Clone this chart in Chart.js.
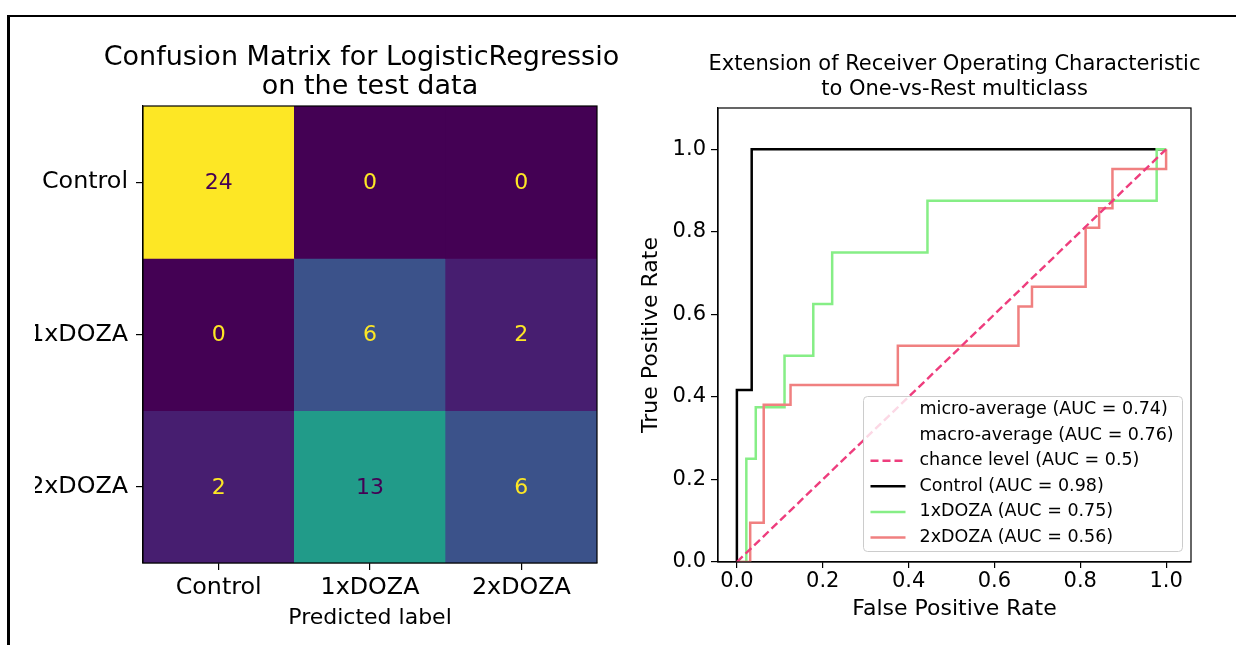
<!DOCTYPE html>
<html>
<head>
<meta charset="utf-8">
<script src="https://cdn.jsdelivr.net/npm/chart.js@4.4.1/dist/chart.umd.min.js"></script>
<style>
  html, body { margin: 0; padding: 0; background: #fff; overflow: hidden; }
  #page { position: relative; width: 1236px; height: 645px; }
  #cm { position: absolute; left: 35px; top: 0; }
  #roc { position: absolute; left: 620px; top: 0; }
  .frame { position: absolute; background: #000; }
</style>
</head>
<body>
<div id="page">
  <canvas id="cm" width="583" height="645"></canvas>
  <canvas id="roc" width="610" height="645"></canvas>
  <div class="frame" style="left:7px;top:15px;width:1229px;height:2px;"></div>
  <div class="frame" style="left:7px;top:15px;width:3px;height:630px;"></div>
</div>
<script>
Chart.defaults.font.family = "'DejaVu Sans', sans-serif";
Chart.defaults.color = '#000';

// confusion matrix, rows = true label, columns = predicted label
const classNames = ['Control', '1xDOZA', '2xDOZA'];
const trueControl = [24, 0, 0];
const true1xDoza = [0, 6, 2];
const true2xDoza = [2, 13, 6];
const cmRows = [trueControl, true1xDoza, true2xDoza];

// ROC curves (fpr, tpr)
const controlFpr = [0, 0, 0.0345, 0.0345, 1];
const controlTpr = [0, 0.417, 0.417, 1, 1];
const doza1Fpr = [0, 0.022, 0.022, 0.044, 0.044, 0.111, 0.111, 0.178, 0.178, 0.222, 0.222, 0.444, 0.444, 0.978, 0.978, 1];
const doza1Tpr = [0, 0, 0.25, 0.25, 0.375, 0.375, 0.5, 0.5, 0.625, 0.625, 0.75, 0.75, 0.875, 0.875, 1, 1];
const doza2Fpr = [0, 0.031, 0.031, 0.0625, 0.0625, 0.125, 0.125, 0.375, 0.375, 0.656, 0.656, 0.6875, 0.6875, 0.8125, 0.8125, 0.844, 0.844, 0.875, 0.875, 1, 1];
const doza2Tpr = [0, 0, 0.095, 0.095, 0.381, 0.381, 0.429, 0.429, 0.524, 0.524, 0.619, 0.619, 0.667, 0.667, 0.81, 0.81, 0.857, 0.857, 0.952, 0.952, 1];
const chanceFpr = [0, 1];
const chanceTpr = [0, 1];
const rateTicks = [0, 0.2, 0.4, 0.6, 0.8, 1.0];
const rocLabels = [
  'micro-average (AUC = 0.74)',
  'macro-average (AUC = 0.76)',
  'chance level (AUC = 0.5)',
  'Control (AUC = 0.98)',
  '1xDOZA (AUC = 0.75)',
  '2xDOZA (AUC = 0.56)'
];

const viridisStops = ['#440154', '#482475', '#414487', '#355f8d', '#2a788e', '#21918c',
  '#22a884', '#44bf70', '#7ad151', '#bddf26', '#fde725'];
function viridis(t) {
  t = Math.min(1, Math.max(0, t)) * (viridisStops.length - 1);
  const i = Math.min(Math.floor(t), viridisStops.length - 2);
  const f = t - i;
  const a = viridisStops[i], b = viridisStops[i + 1];
  let out = '#';
  for (let k = 1; k < 7; k += 2) {
    const ca = parseInt(a.substr(k, 2), 16), cb = parseInt(b.substr(k, 2), 16);
    out += Math.round(ca + (cb - ca) * f).toString(16).padStart(2, '0');
  }
  return out;
}

const pts = (xs, ys) => xs.map((x, i) => ({ x: x, y: ys[i] }));

// title centred over the plot area (like matplotlib's ax.set_title)
const plotTitle = {
  id: 'plotTitle',
  afterDraw(chart, args, opts) {
    const { ctx, chartArea } = chart;
    ctx.save();
    ctx.font = opts.size + "px 'DejaVu Sans'";
    ctx.fillStyle = '#000';
    ctx.textAlign = 'center';
    ctx.textBaseline = 'middle';
    const cx = (chartArea.left + chartArea.right) / 2;
    opts.lines.forEach((t, i) => ctx.fillText(t, cx, opts.top + i * opts.gap));
    ctx.restore();
  }
};

const boxFrame = {
  id: 'boxFrame',
  afterDraw(chart) {
    const { ctx, chartArea: a } = chart;
    ctx.save();
    ctx.strokeStyle = '#000';
    ctx.lineWidth = 1.2;
    ctx.strokeRect(a.left, a.top, a.right - a.left, a.bottom - a.top);
    ctx.restore();
  }
};

const vmax = Math.max(...cmRows.flat());
const vmin = Math.min(...cmRows.flat());
const cellText = {
  id: 'cellText',
  afterDatasetsDraw(chart) {
    const { ctx, scales } = chart;
    ctx.save();
    ctx.font = "22px 'DejaVu Sans'";
    ctx.textAlign = 'center';
    ctx.textBaseline = 'middle';
    cmRows.forEach((row, r) => row.forEach((v, c) => {
      ctx.fillStyle = v > (vmax + vmin) / 2 ? viridis(0) : viridis(1);
      ctx.fillText(String(v), scales.x.getPixelForValue(c), scales.y.getPixelForValue(r + 0.5) + 1);
    }));
    ctx.restore();
  }
};

const rocLegend = {
  id: 'rocLegend',
  afterDatasetsDraw(chart) {
    const { ctx, chartArea: a } = chart;
    const w = 319, h = 155;
    const x0 = Math.round(a.right - 9 - w) + 0.5, y0 = Math.round(a.bottom - 11 - h) + 0.5;
    ctx.save();
    ctx.beginPath();
    ctx.roundRect(x0, y0, w, h, 4);
    ctx.fillStyle = 'rgba(255,255,255,0.8)';
    ctx.fill();
    ctx.strokeStyle = '#cccccc';
    ctx.lineWidth = 1;
    ctx.stroke();
    ctx.font = "17.5px 'DejaVu Sans'";
    ctx.textBaseline = 'middle';
    ctx.textAlign = 'left';
    chart.data.datasets.forEach((ds, i) => {
      const yy = y0 + 13 + i * 25.6;
      if (ds.borderColor !== 'transparent') {
        ctx.beginPath();
        ctx.strokeStyle = ds.borderColor;
        ctx.lineWidth = ds.borderWidth || 2.5;
        ctx.setLineDash(ds.borderDash || []);
        ctx.moveTo(x0 + 7, yy);
        ctx.lineTo(x0 + 42, yy);
        ctx.stroke();
        ctx.setLineDash([]);
      }
      ctx.fillStyle = '#000';
      ctx.fillText(ds.label, x0 + 56, yy);
    });
    ctx.restore();
  }
};

new Chart(document.getElementById('cm'), {
  type: 'bar',
  data: {
    labels: classNames,
    datasets: classNames.map((name, r) => ({
      label: name,
      data: classNames.map(() => [r, r + 1]),
      backgroundColor: cmRows[r].map(v => viridis((v - vmin) / (vmax - vmin))),
      borderWidth: 0,
      barPercentage: 1,
      categoryPercentage: 1,
      grouped: false
    }))
  },
  options: {
    responsive: false,
    animation: false,
    layout: { padding: { left: 0, right: 21, top: 106, bottom: 14 } },
    plugins: {
      legend: { display: false },
      tooltip: { enabled: false },
      plotTitle: { lines: ['Confusion Matrix for LogisticRegression', 'on the test data'], size: 27, top: 58, gap: 29 }
    },
    scales: {
      x: {
        offset: true,
        afterFit: s => { s.height = 68; },
        grid: { offset: false, drawOnChartArea: false, tickLength: 7, color: '#000', lineWidth: 1.2 },
        border: { color: '#000', width: 1.2 },
        ticks: { font: { size: 23.8 }, padding: 4, maxRotation: 0, color: '#000' },
        title: { display: true, text: 'Predicted label', font: { size: 22 }, padding: { top: 0, bottom: 0 }, color: '#000' }
      },
      y: {
        type: 'linear',
        min: 0,
        max: 3,
        reverse: true,
        afterFit: s => { s.width = 108; },
        afterBuildTicks: s => { s.ticks = classNames.map((_, i) => ({ value: i + 0.5 })); },
        grid: { drawOnChartArea: false, tickLength: 7, color: '#000', lineWidth: 1.2 },
        border: { color: '#000', width: 1.2 },
        ticks: { font: { size: 23.8 }, padding: 8, color: '#000', callback: (v, i) => classNames[i] }
      }
    }
  },
  plugins: [cellText, boxFrame, plotTitle]
});

new Chart(document.getElementById('roc'), {
  type: 'scatter',
  data: {
    datasets: [
      { label: rocLabels[0], data: [], borderColor: 'transparent', order: 5 },
      { label: rocLabels[1], data: [], borderColor: 'transparent', order: 6 },
      { label: rocLabels[2], data: pts(chanceFpr, chanceTpr), borderColor: '#ee3d7d', borderWidth: 2.4, borderDash: [8, 4], order: 1 },
      { label: rocLabels[3], data: pts(controlFpr, controlTpr), borderColor: '#000000', order: 4 },
      { label: rocLabels[4], data: pts(doza1Fpr, doza1Tpr), borderColor: '#86ee86', order: 3 },
      { label: rocLabels[5], data: pts(doza2Fpr, doza2Tpr), borderColor: '#f08080', order: 2 }
    ]
  },
  options: {
    responsive: false,
    animation: false,
    showLine: true,
    elements: {
      point: { radius: 0 },
      line: { borderWidth: 2.5, tension: 0, fill: false }
    },
    layout: { padding: { left: 14, right: 39, top: 108, bottom: 23 } },
    plugins: {
      legend: { display: false },
      tooltip: { enabled: false },
      plotTitle: { lines: ['Extension of Receiver Operating Characteristic', 'to One-vs-Rest multiclass'], size: 21, top: 65, gap: 24.5 }
    },
    scales: {
      x: {
        type: 'linear',
        min: -0.044,
        max: 1.058,
        afterFit: s => { s.height = 60; },
        afterBuildTicks: s => { s.ticks = rateTicks.map(v => ({ value: v })); },
        grid: { drawOnChartArea: false, tickLength: 6, color: '#000', lineWidth: 1.2 },
        border: { color: '#000', width: 1.2 },
        ticks: { font: { size: 21 }, padding: 1, maxRotation: 0, autoSkip: false, color: '#000', callback: v => v.toFixed(1) },
        title: { display: true, text: 'False Positive Rate', font: { size: 22 }, padding: { top: 0, bottom: 0 }, color: '#000' }
      },
      y: {
        type: 'linear',
        min: 0,
        max: 1.1,
        afterFit: s => { s.width = 84; },
        afterBuildTicks: s => { s.ticks = rateTicks.map(v => ({ value: v })); },
        grid: { drawOnChartArea: false, tickLength: 7, color: '#000', lineWidth: 1.2 },
        border: { color: '#000', width: 1.2 },
        ticks: { font: { size: 21 }, padding: 5, autoSkip: false, color: '#000', callback: v => v.toFixed(1) },
        title: { display: true, text: 'True Positive Rate', font: { size: 22 }, padding: { top: 4, bottom: 0 }, color: '#000' }
      }
    }
  },
  plugins: [rocLegend, boxFrame, plotTitle]
});
</script>
</body>
</html>
